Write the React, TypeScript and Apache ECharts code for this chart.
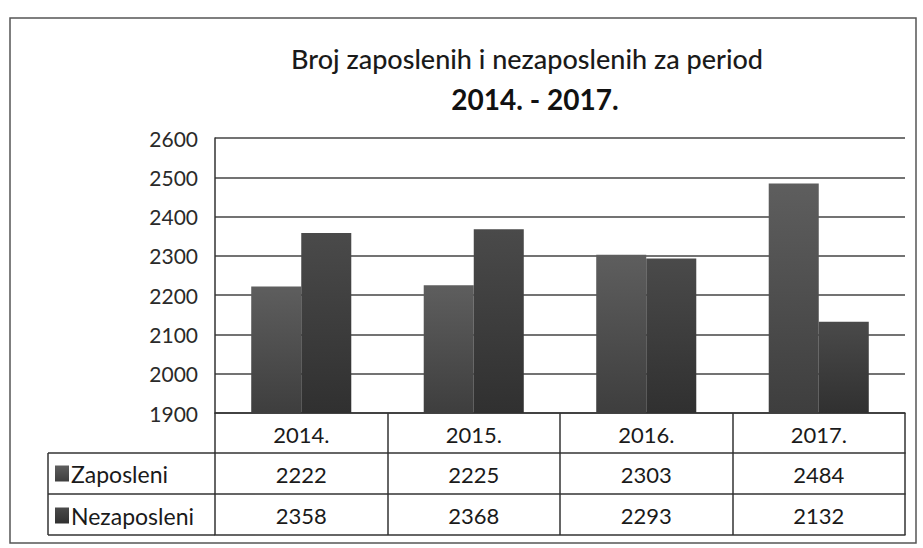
import React, { useEffect, useRef } from "react";
import * as echarts from "echarts";

const years = ["2014.", "2015.", "2016.", "2017."];
const zaposleni = [2222, 2225, 2303, 2484];
const nezaposleni = [2358, 2368, 2293, 2132];
const seriesNames = ["Zaposleni", "Nezaposleni"];
const titleLine1 = "Broj zaposlenih i nezaposlenih za period";
const titleLine2 = "2014. - 2017.";

const FONT = "Lato, 'Open Sans', sans-serif";

export default function App() {
  const ref = useRef<HTMLDivElement>(null);
  useEffect(() => {
    if (!ref.current) return;
    const chart = echarts.init(ref.current, undefined, { renderer: "svg" });
    const lineStyle = { stroke: "#333", lineWidth: 1.5 };
    const rowAxis = (labels: string[], offset: number, showLabel: boolean) => ({
      type: "category",
      data: labels,
      position: "bottom",
      offset,
      gridIndex: 0,
      axisLine: { show: true, lineStyle: { color: "#333", width: 1.5 } },
      axisTick: { show: false },
      axisLabel: {
        show: showLabel,
        margin: 10,
        fontSize: 22,
        color: "#1a1a1a",
        fontFamily: FONT,
      },
      splitLine: { show: false },
    });
    chart.setOption({
      animation: false,
      backgroundColor: "#fff",
      title: [
        {
          text: titleLine1,
          left: 522,
          top: 40,
          textAlign: "center",
          textStyle: { fontSize: 27, fontWeight: 500, color: "#1a1a1a", fontFamily: FONT },
        },
        {
          text: titleLine2,
          left: 530,
          top: 80,
          textAlign: "center",
          textStyle: { fontSize: 28, fontWeight: 700, color: "#111", fontFamily: FONT },
        },
      ],
      legend: {
        orient: "vertical",
        left: 50,
        top: 457,
        itemGap: 19,
        itemWidth: 14,
        itemHeight: 16,
        icon: "rect",
        data: seriesNames,
        textStyle: { fontSize: 23, lineHeight: 22, color: "#1a1a1a", fontFamily: FONT, padding: [0, 0, 0, -3] },
      },
      grid: { left: 215, right: 18, top: 138, bottom: 135, containLabel: false },
      xAxis: [
        {
          type: "category",
          data: years,
          position: "bottom",
          gridIndex: 0,
          axisLine: { show: true, lineStyle: { color: "#333", width: 1.5 } },
          axisTick: { show: true, length: 122, lineStyle: { color: "#333", width: 1.5 } },
          axisLabel: { margin: 10, fontSize: 22, color: "#1a1a1a", fontFamily: FONT },
        },
        rowAxis(zaposleni.map(String), 40, true),
        rowAxis(nezaposleni.map(String), 81, true),
        rowAxis(years.map(() => ""), 122, false),
      ],
      yAxis: {
        type: "value",
        min: 1900,
        max: 2600,
        interval: 100,
        axisLine: { show: true, lineStyle: { color: "#333", width: 1.5 } },
        axisTick: { show: false },
        axisLabel: {
          margin: 17,
          fontSize: 21,
          color: "#2a2a2a",
          fontFamily: FONT,
          formatter: (v: number) => String(v),
        },
        splitLine: { show: true, lineStyle: { color: "#444", width: 1.5 } },
      },
      series: [
        {
          name: seriesNames[0],
          type: "bar",
          data: zaposleni,
          barGap: "0%",
          barCategoryGap: "42%",
          itemStyle: {
            color: new echarts.graphic.LinearGradient(0, 0, 0, 1, [
              { offset: 0, color: "#5e5e5e" },
              { offset: 1, color: "#3e3e3e" },
            ]),
          },
        },
        {
          name: seriesNames[1],
          type: "bar",
          data: nezaposleni,
          itemStyle: {
            color: new echarts.graphic.LinearGradient(0, 0, 0, 1, [
              { offset: 0, color: "#4a4a4a" },
              { offset: 1, color: "#303030" },
            ]),
          },
        },
      ],
      graphic: [
        {
          type: "rect",
          shape: { x: 10, y: 18, width: 906, height: 525 },
          style: { fill: "none", stroke: "#555", lineWidth: 1.5 },
          silent: true,
        },
        { type: "line", shape: { x1: 48, y1: 453, x2: 215, y2: 453 }, style: lineStyle, silent: true },
        { type: "line", shape: { x1: 48, y1: 494, x2: 215, y2: 494 }, style: lineStyle, silent: true },
        { type: "line", shape: { x1: 48, y1: 535, x2: 215, y2: 535 }, style: lineStyle, silent: true },
        { type: "line", shape: { x1: 48, y1: 453, x2: 48, y2: 535 }, style: lineStyle, silent: true },
      ],
    });
    return () => chart.dispose();
  }, []);
  return (
    <div
      ref={ref}
      style={{ position: "fixed", left: 0, top: 0, width: 923, height: 548 }}
    />
  );
}
